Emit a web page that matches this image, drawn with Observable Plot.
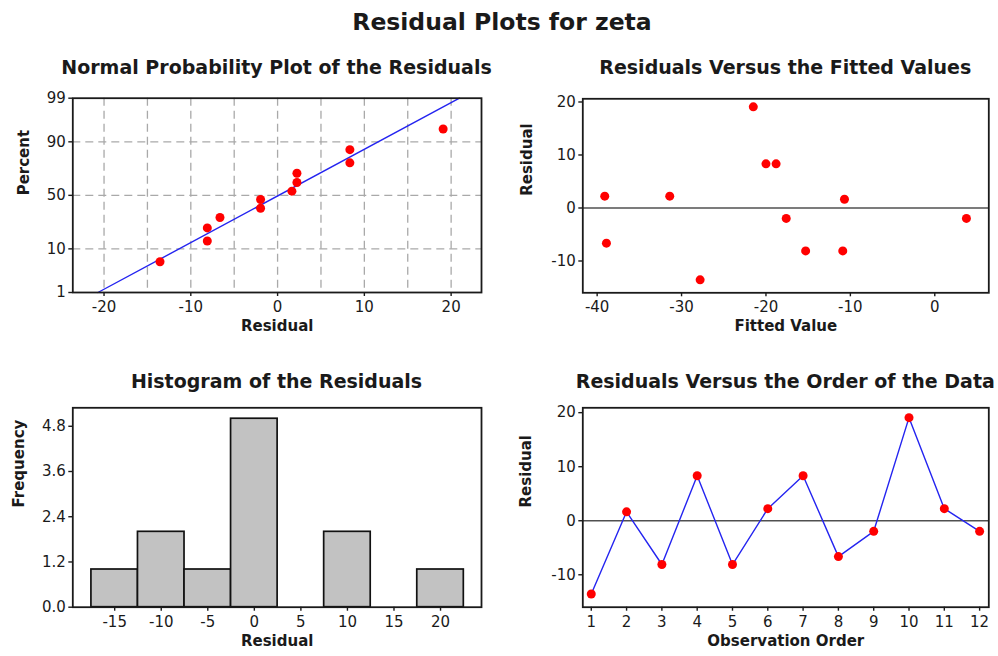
<!DOCTYPE html>
<html>
<head>
<meta charset="utf-8">
<script src="https://cdn.jsdelivr.net/npm/d3@7"></script>
<script src="https://cdn.jsdelivr.net/npm/@observablehq/plot@0.6"></script>
<style>
  body { margin: 0; background: #fff; }
  #page { position: relative; width: 998px; height: 656px; overflow: hidden;
          font-family: "DejaVu Sans", sans-serif; color: #1a1a1a; background: #fff; }
  .ttl { position: absolute; font-weight: bold; white-space: nowrap; line-height: 1;
         transform: translateX(-50%); }
  .panel { position: absolute; }
  .panel svg { overflow: visible; }
</style>
</head>
<body>
<div id="page"></div>
<script>
// Residual diagnostics for the model of zeta (12 observations)
const observation = [1, 2, 3, 4, 5, 6, 7, 8, 9, 10, 11, 12];
const residuals = [-13.55, 1.65, -8.1, 8.33, -8.1, 2.23, 8.33, -6.64, -1.96, 19.08, 2.23, -1.96];
const fitted = [-27.8, -10.7, -15.3, -20.0, -10.9, -39.1, -18.8, -38.9, -17.6, -21.5, -31.4, 3.75];

// Normal plotting positions (percent) of the sorted residuals
const normalPercent = [5.6, 13.7, 21.8, 29.8, 37.9, 46.0, 54.0, 62.1, 70.2, 78.2, 86.3, 94.4];

// Tick values
const percentTicks = [1, 10, 50, 90, 99];
const percentGrid = [10, 50, 90];
const nppResidualTicks = [-20, -10, 0, 10, 20];
const nppResidualGrid = [-20, -15, -10, -5, 0, 5, 10, 15, 20];
const fittedTicks = [-40, -30, -20, -10, 0];
const residualTicks = [-10, 0, 10, 20];
const histTicks = [-15, -10, -5, 0, 5, 10, 15, 20];
const histBinEdges = [-17.5, -12.5, -7.5, -2.5, 2.5, 7.5, 12.5, 17.5, 22.5];
const frequencyTicks = [0, 1.2, 2.4, 3.6, 4.8];

// Inverse standard normal CDF (Acklam's rational approximation)
function probit(p) {
  const a = [-3.969683028665376e+01, 2.209460984245205e+02, -2.759285104469687e+02,
             1.383577518672690e+02, -3.066479806614716e+01, 2.506628277459239e+00];
  const b = [-5.447609879822406e+01, 1.615858368580409e+02, -1.556989798598866e+02,
             6.680131188771972e+01, -1.328068155288572e+01];
  const c = [-7.784894002430293e-03, -3.223964580411365e-01, -2.400758277161838e+00,
             -2.549732539343734e+00, 4.374664141464968e+00, 2.938163982698783e+00];
  const d = [7.784695709041462e-03, 3.224671290700398e-01, 2.445134137142996e+00,
             3.754408661907416e+00];
  const plow = 0.02425, phigh = 1 - plow;
  let q, r;
  if (p < plow) {
    q = Math.sqrt(-2 * Math.log(p));
    return (((((c[0]*q+c[1])*q+c[2])*q+c[3])*q+c[4])*q+c[5]) / ((((d[0]*q+d[1])*q+d[2])*q+d[3])*q+1);
  }
  if (p <= phigh) {
    q = p - 0.5; r = q * q;
    return (((((a[0]*r+a[1])*r+a[2])*r+a[3])*r+a[4])*r+a[5])*q / (((((b[0]*r+b[1])*r+b[2])*r+b[3])*r+b[4])*r+1);
  }
  q = Math.sqrt(-2 * Math.log(1 - p));
  return -(((((c[0]*q+c[1])*q+c[2])*q+c[3])*q+c[4])*q+c[5]) / ((((d[0]*q+d[1])*q+d[2])*q+d[3])*q+1);
}

const page = document.getElementById("page");
const FONT = "DejaVu Sans, sans-serif";
const INK = "#1a1a1a";

function addTitle(text, cx, top, size) {
  const el = document.createElement("div");
  el.className = "ttl";
  el.textContent = text;
  el.style.left = cx + "px";
  el.style.top = top + "px";
  el.style.fontSize = size + "px";
  page.appendChild(el);
}

function addPanel(svg, left, top) {
  const wrap = document.createElement("div");
  wrap.className = "panel";
  wrap.style.left = left + "px";
  wrap.style.top = top + "px";
  wrap.appendChild(svg);
  page.appendChild(wrap);
}

const baseStyle = {fontFamily: FONT, fontSize: "15px", color: INK, background: "transparent", overflow: "visible"};
const axisCommon = {tickSize: 4, strokeWidth: 1.4, fontSize: 15, label: null};
const frameMark = () => Plot.frame({stroke: INK, strokeWidth: 1.8});
const xLabel = (t) => Plot.text([t], {text: d => d, frameAnchor: "bottom", dy: 38.5, fontWeight: "bold", fontSize: 15, fill: INK});
const yLabel = (t, dx) => Plot.text([t], {text: d => d, frameAnchor: "left", dx: -dx, rotate: -90, fontWeight: "bold", fontSize: 15, fill: INK});
const plain = d => String(d);
const DOT_R = 4.5;

addTitle("Residual Plots for zeta", 502, 10.8, 23.5);

// --- Normal probability plot --------------------------------------------
const zLo = probit(0.01), zHi = probit(0.99);
const zTicks = percentTicks.map(p => probit(p / 100));
const zGrid = percentGrid.map(p => probit(p / 100));
const sortedResiduals = d3.sort(residuals);
const nppPoints = sortedResiduals.map((r, i) => ({r, z: probit(normalPercent[i] / 100)}));
const mu = d3.mean(residuals), sigma = d3.deviation(residuals);
const fitLine = [zLo, zHi].map(z => ({r: mu + sigma * z, z}));

addTitle("Normal Probability Plot of the Residuals", 276.5, 57.9, 19);
addPanel(Plot.plot({
  width: 499, height: 270,
  marginLeft: 72.3, marginRight: 18, marginTop: 12.7, marginBottom: 63,
  style: baseStyle,
  x: {domain: [-23.6, 23.5]},
  y: {domain: [zLo, zHi]},
  marks: [
    Plot.gridX(nppResidualGrid, {stroke: "#a9a9a9", strokeOpacity: 1, strokeWidth: 1.3, strokeDasharray: "8,5"}),
    Plot.gridY(zGrid, {stroke: "#a9a9a9", strokeOpacity: 1, strokeWidth: 1.3, strokeDasharray: "8,5"}),
    Plot.line(fitLine, {x: "r", y: "z", stroke: "#2424f0", strokeWidth: 1.4}),
    Plot.dot(nppPoints, {x: "r", y: "z", r: DOT_R, fill: "#ff0000", stroke: "none"}),
    Plot.axisX(nppResidualTicks, {...axisCommon, tickPadding: 5, tickFormat: plain}),
    Plot.axisY(zTicks, {...axisCommon, tickPadding: 3, tickFormat: z => String(percentTicks[zTicks.indexOf(z)])}),
    frameMark(),
    xLabel("Residual"),
    yLabel("Percent", 49)
  ]
}), 0, 85);

// --- Residuals versus fitted values -------------------------------------
const fitPairs = fitted.map((f, i) => ({fitted: f, residual: residuals[i]}));
addTitle("Residuals Versus the Fitted Values", 785.3, 57.9, 19);
addPanel(Plot.plot({
  width: 498, height: 270,
  marginLeft: 82.3, marginRight: 9.7, marginTop: 13.3, marginBottom: 62.7,
  style: baseStyle,
  x: {domain: [-41.7, 6.4]},
  y: {domain: [-16.0, 20.6]},
  marks: [
    Plot.ruleY([0], {stroke: "#505050", strokeWidth: 1.7}),
    Plot.dot(fitPairs, {x: "fitted", y: "residual", r: DOT_R, fill: "#ff0000", stroke: "none"}),
    Plot.axisX(fittedTicks, {...axisCommon, tickPadding: 5, tickFormat: plain}),
    Plot.axisY(residualTicks, {...axisCommon, tickPadding: 3, tickFormat: plain}),
    frameMark(),
    xLabel("Fitted Value"),
    yLabel("Residual", 55.6)
  ]
}), 500, 85);

// --- Histogram of the residuals -----------------------------------------
addTitle("Histogram of the Residuals", 276.5, 372.2, 19);
addPanel(Plot.plot({
  width: 499, height: 261,
  marginLeft: 72.3, marginRight: 18, marginTop: 12.3, marginBottom: 49.3,
  style: baseStyle,
  x: {domain: [-19.5, 24.4]},
  y: {domain: [0, 5.29]},
  marks: [
    Plot.rectY(residuals, Plot.binX({y: "count"}, {
      x: d => d, thresholds: histBinEdges,
      fill: "#c2c2c2", stroke: "#111", strokeWidth: 1.7, inset: 0
    })),
    Plot.axisX(histTicks, {...axisCommon, tickPadding: 5, tickFormat: plain}),
    Plot.axisY(frequencyTicks, {...axisCommon, tickPadding: 3, tickFormat: d => d.toFixed(1)}),
    frameMark(),
    xLabel("Residual"),
    yLabel("Frequency", 54)
  ]
}), 0, 395);

// --- Residuals versus observation order ---------------------------------
const orderPairs = observation.map((o, i) => ({order: o, residual: residuals[i]}));
addTitle("Residuals Versus the Order of the Data", 785.3, 372.2, 19);
addPanel(Plot.plot({
  width: 498, height: 261,
  marginLeft: 82.3, marginRight: 9.7, marginTop: 12.3, marginBottom: 49.3,
  style: baseStyle,
  x: {domain: [0.76, 12.26]},
  y: {domain: [-16.0, 20.9]},
  marks: [
    Plot.ruleY([0], {stroke: "#505050", strokeWidth: 1.7}),
    Plot.line(orderPairs, {x: "order", y: "residual", stroke: "#2424f0", strokeWidth: 1.4}),
    Plot.dot(orderPairs, {x: "order", y: "residual", r: DOT_R, fill: "#ff0000", stroke: "none"}),
    Plot.axisX(observation, {...axisCommon, tickPadding: 5, tickFormat: plain}),
    Plot.axisY(residualTicks, {...axisCommon, tickPadding: 3, tickFormat: plain}),
    frameMark(),
    xLabel("Observation Order"),
    yLabel("Residual", 57)
  ]
}), 500, 395);
</script>
</body>
</html>
